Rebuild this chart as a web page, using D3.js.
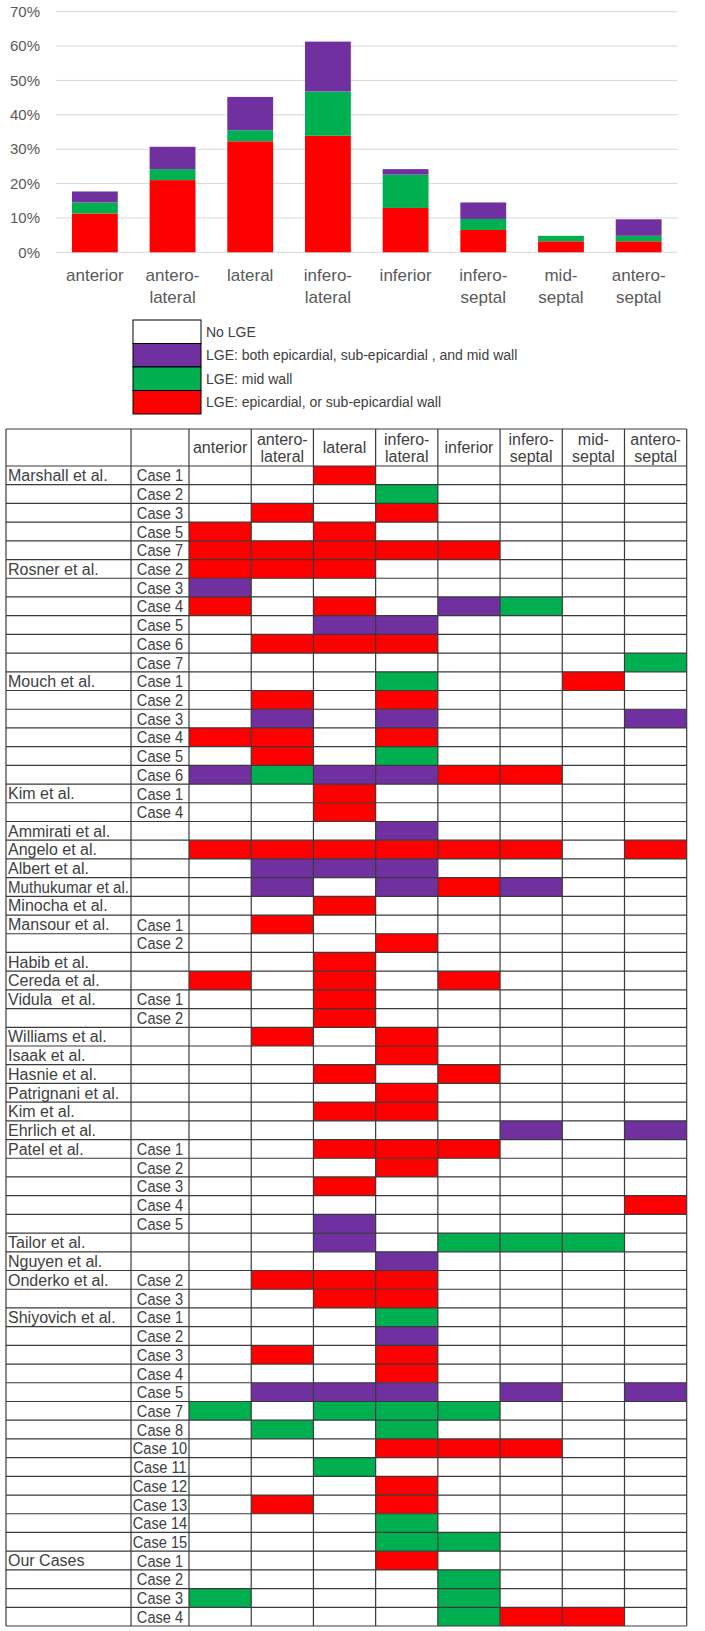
<!DOCTYPE html>
<html>
<head>
<meta charset="utf-8">
<script src="https://cdn.jsdelivr.net/npm/d3@7"></script>
<style>
  body { margin: 0; background: #fff; }
  svg { display: block; font-family: "Liberation Sans", Arial, sans-serif; }
</style>
</head>
<body>
<svg id="chart"></svg>
<script>
// segments (x categories)
const segments = ["anterior", "antero-lateral", "lateral", "infero-lateral", "inferior", "infero-septal", "mid-septal", "antero-septal"];

// stacked bar values (%)
const epiValues  = [11.3, 21.0, 32.3, 33.9, 12.9, 6.5, 3.2, 3.2];
const midValues  = [3.2, 3.2, 3.2, 12.9, 9.7, 3.2, 1.6, 1.6];
const bothValues = [3.2, 6.5, 9.7, 14.5, 1.6, 4.8, 0, 4.8];

const yTicks = [0, 10, 20, 30, 40, 50, 60, 70];

const legendLabels = [
  "No LGE",
  "LGE: both epicardial, sub-epicardial , and mid wall",
  "LGE: mid wall",
  "LGE: epicardial, or sub-epicardial wall"
];

// table rows
const studyLabels = [
  "Marshall et al.", "", "", "", "",
  "Rosner et al.", "", "", "", "", "",
  "Mouch et al.", "", "", "", "", "",
  "Kim et al.", "",
  "Ammirati et al.", "Angelo et al.", "Albert et al.", "Muthukumar et al.", "Minocha et al.",
  "Mansour et al.", "",
  "Habib et al.", "Cereda et al.",
  "Vidula  et al.", "",
  "Williams et al.", "Isaak et al.", "Hasnie et al.", "Patrignani et al.", "Kim et al.", "Ehrlich et al.",
  "Patel et al.", "", "", "", "",
  "Tailor et al.", "Nguyen et al.",
  "Onderko et al.", "",
  "Shiyovich et al.", "", "", "", "", "", "", "", "", "", "", "", "",
  "Our Cases", "", "", ""
];
const caseLabels = [
  "Case 1", "Case 2", "Case 3", "Case 5", "Case 7",
  "Case 2", "Case 3", "Case 4", "Case 5", "Case 6", "Case 7",
  "Case 1", "Case 2", "Case 3", "Case 4", "Case 5", "Case 6",
  "Case 1", "Case 4",
  "", "", "", "", "",
  "Case 1", "Case 2",
  "", "",
  "Case 1", "Case 2",
  "", "", "", "", "", "",
  "Case 1", "Case 2", "Case 3", "Case 4", "Case 5",
  "", "",
  "Case 2", "Case 3",
  "Case 1", "Case 2", "Case 3", "Case 4", "Case 5", "Case 7", "Case 8", "Case 10", "Case 11", "Case 12", "Case 13", "Case 14", "Case 15",
  "Case 1", "Case 2", "Case 3", "Case 4"
];
// R = epicardial / sub-epicardial, G = mid wall, P = both, . = no LGE
const lgePattern = [
  "..R.....", "...G....", ".R.R....", "R.R.....", "RRRRR...",
  "RRR.....", "P.......", "R.R.PG..", "..PP....", ".RRR....", ".......G",
  "...G..R.", ".R.R....", ".P.P...P", "RR.R....", ".R.G....", "PGPPRR..",
  "..R.....", "..R.....",
  "...P....", "RRRRRR.R", ".PPP....", ".P.PRP..", "..R.....",
  ".R......", "...R....",
  "..R.....", "R.R.R...",
  "..R.....", "..R.....",
  ".R.R....", "...R....", "..R.R...", "...R....", "..RR....", ".....P.P",
  "..RRR...", "...R....", "..R.....", ".......R", "..P.....",
  "..P.GGG.", "...P....",
  ".RRR....", "..RR....",
  "...G....", "...P....", ".R.R....", "...R....", ".PPP.P.P", "G.GGG...", ".G.G....", "...RRR..", "..G.....", "...R....", ".R.R....", "...G....", "...GG...",
  "...R....", "....G...", "G...G...", "....GRR."
];

const colors = { R: "#ff0000", G: "#00b050", P: "#7030a0", ".": "#ffffff" };
const legendColors = ["#ffffff", "#7030a0", "#00b050", "#ff0000"];

const W = 705, H = 1631;
const svg = d3.select("#chart").attr("width", W).attr("height", H);
svg.append("rect").attr("width", W).attr("height", H).attr("fill", "#fff");

// ---------- stacked bar chart ----------
const x = d3.scaleBand().domain(segments).range([56, 677.5]).paddingInner(0.41).paddingOuter(0.205);
const y = d3.scaleLinear().domain([0, 70]).range([252.3, 11.7]);

svg.append("g").selectAll("line").data(yTicks).join("line")
  .attr("x1", 56).attr("x2", 677.5)
  .attr("y1", d => y(d)).attr("y2", d => y(d))
  .attr("stroke", "#d9d9d9").attr("stroke-width", 1);

svg.append("g").selectAll("text").data(yTicks).join("text")
  .attr("x", 40).attr("y", d => y(d)).attr("dy", "0.35em")
  .attr("text-anchor", "end").attr("font-size", 15).attr("fill", "#595959")
  .text(d => d + "%");

const rows = segments.map((s, i) => ({ seg: s, epi: epiValues[i], mid: midValues[i], both: bothValues[i] }));
const stack = d3.stack().keys(["epi", "mid", "both"])(rows);
const stackColors = { epi: "#ff0000", mid: "#00b050", both: "#7030a0" };

svg.append("g").selectAll("g").data(stack).join("g")
  .attr("fill", d => stackColors[d.key])
  .selectAll("rect").data(d => d).join("rect")
  .attr("x", d => x(d.data.seg))
  .attr("width", x.bandwidth())
  .attr("y", d => y(d[1]))
  .attr("height", d => y(d[0]) - y(d[1]));

// split "antero-lateral" into two lines
const splitLabel = d => d.includes("-") ? [d.split("-")[0] + "-", d.split("-")[1]] : [d];

// x labels
svg.append("g").selectAll("text").data(segments).join("text")
  .attr("text-anchor", "middle").attr("font-size", 17).attr("fill", "#595959")
  .each(function (d) {
    d3.select(this).selectAll("tspan").data(splitLabel(d)).join("tspan")
      .attr("x", x(d) + x.bandwidth() / 2)
      .attr("y", (p, i) => 275 + i * 21.7)
      .attr("dy", "0.35em")
      .text(p => p);
  });

// ---------- legend ----------
const lg = svg.append("g");
const legendTop = 320, legendRow = 23.5;
lg.selectAll("rect").data(legendLabels).join("rect")
  .attr("x", 133).attr("width", 68)
  .attr("y", (d, i) => legendTop + i * legendRow).attr("height", legendRow)
  .attr("fill", (d, i) => legendColors[i])
  .attr("stroke", "#000").attr("stroke-width", 1);
lg.selectAll("text").data(legendLabels).join("text")
  .attr("x", 206).attr("y", (d, i) => legendTop + (i + 0.5) * legendRow).attr("dy", "0.35em")
  .attr("font-size", 14).attr("fill", "#404040")
  .text(d => d);

// ---------- table ----------
const tLeft = 6, tCase = 131, tData = 189, tRight = 686.7;
const tTop = 429, tHead = 466, tBottom = 1626;
const cx = d3.scaleBand().domain(segments).range([tData, tRight]);
const ry = d3.scaleBand().domain(d3.range(lgePattern.length)).range([tHead, tBottom]);

const tbl = svg.append("g");

// coloured cells
const cells = [];
lgePattern.forEach((p, r) => p.split("").forEach((c, j) => { if (c !== ".") cells.push({ r, seg: segments[j], c }); }));
tbl.append("g").selectAll("rect").data(cells).join("rect")
  .attr("x", d => cx(d.seg)).attr("y", d => ry(d.r))
  .attr("width", cx.bandwidth()).attr("height", ry.bandwidth())
  .attr("fill", d => colors[d.c]);

// grid lines
const lineColor = "#3a3a3a";
const vLines = [tLeft, tCase, ...segments.map(s => cx(s)), tRight];
tbl.append("g").selectAll("line").data(vLines).join("line")
  .attr("x1", d => d).attr("x2", d => d).attr("y1", tTop).attr("y2", tBottom)
  .attr("stroke", lineColor).attr("stroke-width", 1.2);
const hLines = [tTop, ...d3.range(lgePattern.length).map(i => ry(i)), tBottom];
tbl.append("g").selectAll("line").data(hLines).join("line")
  .attr("x1", tLeft).attr("x2", tRight).attr("y1", d => d).attr("y2", d => d)
  .attr("stroke", lineColor).attr("stroke-width", 1.2);

// header
tbl.append("g").selectAll("text").data(segments).join("text")
  .attr("text-anchor", "middle").attr("font-size", 16).attr("fill", "#404040")
  .each(function (d) {
    const parts = splitLabel(d);
    const yc = (tTop + tHead) / 2;
    d3.select(this).selectAll("tspan").data(parts).join("tspan")
      .attr("x", cx(d) + cx.bandwidth() / 2)
      .attr("y", (p, i) => parts.length === 1 ? yc : yc - 8 + i * 16.5)
      .attr("dy", "0.35em")
      .text(p => p);
  });

// row labels
tbl.append("g").selectAll("text").data(studyLabels).join("text")
  .attr("x", tLeft + 2).attr("y", (d, i) => ry(i) + ry.bandwidth() / 2).attr("dy", "0.36em")
  .attr("font-size", 16).attr("fill", "#404040")
  .attr("xml:space", "preserve")
  .text(d => d)
  .each(function () {
    const maxW = tCase - tLeft - 4;
    if (this.getComputedTextLength() > maxW) {
      d3.select(this).attr("textLength", maxW).attr("lengthAdjust", "spacingAndGlyphs");
    }
  });

// case labels: taller, condensed
tbl.append("g").selectAll("text").data(caseLabels).join("text")
  .attr("transform", (d, i) => `translate(${(tCase + tData) / 2},${ry(i) + ry.bandwidth() / 2}) scale(0.86,1)`)
  .attr("dy", "0.36em")
  .attr("text-anchor", "middle").attr("font-size", 17).attr("fill", "#404040")
  .text(d => d);
</script>
</body>
</html>
